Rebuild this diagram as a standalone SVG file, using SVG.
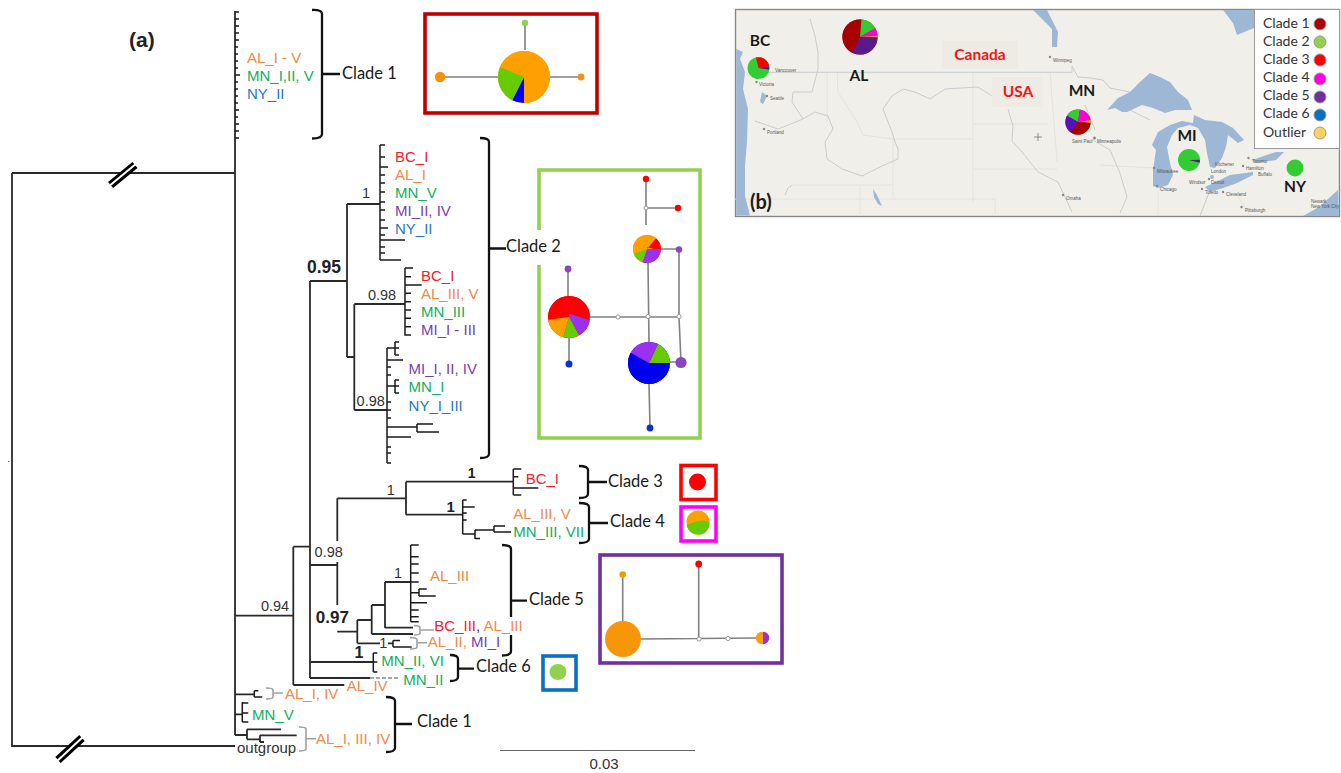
<svg xmlns="http://www.w3.org/2000/svg" width="1341" height="773" viewBox="0 0 1341 773">
<style>
text{font-family:"Liberation Sans",Arial,sans-serif}
.l{font-size:15px}
.or{fill:#ee8a4a}.gr{fill:#10b060}.bl{fill:#1f78c4}.pu{fill:#7a3fa8}.re{fill:#f0202c}
.n{font-size:14.5px;fill:#333}
.b{font-weight:bold;fill:#222}
.c{font-family:Lato,"Liberation Sans",sans-serif;font-size:16.5px;fill:#1a1a1a}
.tr{fill:none;stroke:#2a2a2a;stroke-width:1.8}
.tk{fill:none;stroke:#1a1a1a;stroke-width:1.5}
.gb{fill:none;stroke:#a0a0a0;stroke-width:1.6}
.br{fill:none;stroke:#111;stroke-width:2.3}
.e{fill:none;stroke:#808080;stroke-width:1.6}
.w{fill:#fff;stroke:#999;stroke-width:1}
.f{fill:none;stroke-width:3.6}
.s{fill:none}
.lk{fill:#9db7d4}
.rv{fill:none;stroke:#c8cdd0;stroke-width:1}
.st{fill:none;stroke:#e4e2dc;stroke-width:1}
.ct{font-size:4.5px;fill:#555}
.cd{fill:#888}
.mp{font-family:Lato,"Liberation Sans",sans-serif;font-size:15.5px;font-weight:bold;fill:#1a1a1a}
.lg{font-family:Lato,"Liberation Sans",sans-serif;font-size:14px;fill:#333}
.ld{stroke:#999;stroke-width:1}
</style>
<rect width="1341" height="773" fill="#fff"/>
<rect x="8" y="461" width="1.5" height="1" fill="#777"/>

<g id="connectors">
<path class="tr" d="M235,11V735M12,173H235M12,173V746H235M310,281V678M310,281H347M347,204V357M347,204H380M347,357H354.3M354.3,304V410M354.3,304H405M354.3,410H387"/>
<path class="tk" d="M235,12h4M235,19h4M235,26h4M235,33h4M235,40h4M235,47h3M235,54h3M235,61h3M235,68h3M235,75h5M235,82h3M235,89h3M235,96h3M235,103h3M235,110h4M235,117h3M235,124h4M235,131h4M235,138h4"/>
<path class="tk" d="M380,145V260M380,145h5M380,157h5M380,167h8M380,175h5M380,183h5M380,192h5M380,202h5M380,210h5M380,220h5M380,228h8M380,235h5M380,240h25M380,247h5M380,253h5M380,260h21"/>
<path class="tk" d="M405,268V335.700M405,268h8M405,276.700h6M405,285h16.700M405,293.300h6M405,301.700h6M405,310h6M405,318.300h6M405,326.700h6M405,335h6"/>
<path class="tk" d="M387,348V463M387,348h8M395,342v13M395,342h4M395,348h4M395,355h4M387,360h16M387,367h4M387,375h4M387,386h8M395,380v13M395,380h4M395,386h4M395,393h4M387,402h4M387,410h4M387,418h4M387,427h30M417,424v8M417,424h16M417,432h22M387,437h24M387,447h4M387,453h4M387,463h4"/>
<path class="tr" d="M310,565H337.300M337.300,498.300V541M337.300,562V605M337.300,498.300H406M406,481.700V514.700M406,481.700H513.300M406,514.700H462.700"/>
<path class="tk" d="M513.300,469V495M513.300,469h8M513.300,476.700h5M513.300,488h25M513.300,495h8"/>
<path class="tk" d="M462.700,500V534M462.700,500h4M462.700,507h12M462.700,513h4M462.700,520h4M462.700,534h12M475,530v9M475,530h19M475,538.500h5M494,526v6M494,526h11M494,532h17"/>
<path class="tr" d="M337.300,631.700H357.300M357.300,620V643.300M357.300,620H371.700M371.700,605V634M371.700,605H385M385,582V628M385,582H410.700M385,627.700H413M371.700,634H413M357.300,643.300H380M388,643.300H393"/>
<path class="tk" d="M410.700,545V621.700M410.700,545h8M410.700,556.700h8M410.700,564h8M410.700,573h8M410.700,582h8M410.700,592.700h8M419,589v7M419,589h7.700M419,596h16.700M410.700,602.700h16.300M410.700,610h8M410.700,616.700h8M410.700,621.700h8"/>
<path class="tk" d="M393,640.500V647M393,640.500h7M393,647h18.700"/>
<path class="tr" d="M310,662H373.300M310,678H370M293.300,546.700V685M293.300,546.700H310M293.300,685H344.300M235,615.700H293.300"/>
<path d="M370,678H400" fill="none" stroke="#888" stroke-width="1.4" stroke-dasharray="4 2"/>
<path class="tk" d="M373.300,653V672M373.300,653h4M373.300,662h4M373.300,672h4"/>
<path class="tr" d="M235,694.300H254.300M235,714.300H242.300M235,735H247M247,729.300V739.300M247,729.300H281M247,739.300H260M260,735.300V742M260,735.300H296.700M260,742H264"/>
<path class="tk" d="M254.300,690.700V697M254.300,690.700h4M254.300,697h8M242.300,702V722M242.300,703h6M242.300,713h6M242.300,722h6"/>
<path class="gb" d="M414,625.500Q420,625.500 420,628V633Q420,635 414,635M421,630H434M410,637.500Q417,637.500 417,640V647Q417,649 410,649M418,642.700H427M266,688Q273,688 273,690V697Q273,699 266,699M273,693H283M299,727Q306,727 306,729V749Q306,751 299,751M306,738.700H316"/>
<path class="br" d="M312,10Q322,9.500 322,14V134Q322,138.500 312,138.500M322,74H340"/>
<path class="br" d="M480,138Q489,138 489,142V454Q489,458 480,458M489,248.500H506"/>
<path class="br" d="M579,466Q588,466 588,470V494Q588,498 579,498M588,482H607"/>
<path class="br" d="M579,503Q589,503 589,507V539Q589,543 579,543M589,523H608"/>
<path class="br" d="M502,545Q511,545 511,549V617M511,635V651Q511,655.500 502,655.500M511,600.700H527"/>
<path class="br" d="M450,655Q458,655 458,659V677Q458,681 450,681M458,668.600H474"/>
<path class="br" d="M386,697Q395,697 395,701V748Q395,752 386,752M395,724H412"/>
<path d="M110.600,185L135,165M58,760L82,738" fill="none" stroke="#000" stroke-width="8"/>
<path d="M108,187L137,163M55,763L85,735" fill="none" stroke="#fff" stroke-width="2"/>
<path d="M500,750.500H695" fill="none" stroke="#666" stroke-width="1"/>
</g>

<g id="tree-labels">
<text x="129" y="47" font-size="21" class="b">(a)</text>
<text x="247" y="63" class="l or">AL_I - V</text>
<text x="247" y="81" class="l gr">MN_I,II, V</text>
<text x="247" y="99" class="l bl">NY_II</text>
<text x="395" y="162" class="l re">BC_I</text>
<text x="395" y="180" class="l or">AL_I</text>
<text x="395" y="198" class="l gr">MN_V</text>
<text x="395" y="216" class="l pu">MI_II, IV</text>
<text x="395" y="234" class="l bl">NY_II</text>
<text x="421" y="281" class="l re">BC_I</text>
<text x="421" y="299" class="l or">AL_III, V</text>
<text x="421" y="317" class="l gr">MN_III</text>
<text x="421" y="335" class="l pu">MI_I - III</text>
<text x="408.600" y="374" class="l pu">MI_I, II, IV</text>
<text x="408.600" y="392" class="l gr">MN_I</text>
<text x="408.600" y="411" class="l bl">NY_I_III</text>
<text x="525.700" y="484" class="l re">BC_I</text>
<text x="513.300" y="519" class="l or">AL_III, V</text>
<text x="513.300" y="537" class="l gr">MN_III, VII</text>
<text x="430" y="581" class="l or">AL_III</text>
<text x="434.300" y="631" class="l"><tspan class="re">BC_III</tspan><tspan fill="#333">, </tspan><tspan class="or">AL_III</tspan></text>
<text x="427.700" y="647" class="l"><tspan class="or">AL_II, </tspan><tspan class="pu">MI_I</tspan></text>
<text x="381.300" y="666" class="l gr">MN_II, VI</text>
<text x="403.300" y="685" class="l gr">MN_II</text>
<text x="346.700" y="691" class="l or">AL_IV</text>
<text x="285" y="699" class="l or">AL_I, IV</text>
<text x="252" y="720" class="l gr">MN_V</text>
<text x="316" y="743.500" class="l or">AL_I, III, IV</text>
<text x="237" y="753" class="n" style="font-size:15px">outgroup</text>
<text x="604" y="769" class="n" text-anchor="middle" style="font-size:15px">0.03</text>
<text x="366" y="198" class="n" text-anchor="middle">1</text>
<text x="382" y="300" class="n" text-anchor="middle">0.98</text>
<text x="370.700" y="405.500" class="n" text-anchor="middle">0.98</text>
<text x="328.700" y="557" class="n" text-anchor="middle">0.98</text>
<text x="275" y="610.500" class="n" text-anchor="middle">0.94</text>
<text x="390.700" y="495" class="n" text-anchor="middle">1</text>
<text x="398" y="577.500" class="n" text-anchor="middle">1</text>
<text x="383.300" y="648" class="n" text-anchor="middle">1</text>
<text x="324" y="273" font-size="17.500" class="b" text-anchor="middle">0.95</text>
<text x="332.300" y="623" font-size="17" class="b" text-anchor="middle">0.97</text>
<text x="471.700" y="478" font-size="14" class="b" text-anchor="middle">1</text>
<text x="450.700" y="512" font-size="15" class="b" text-anchor="middle">1</text>
<text x="359" y="658" font-size="16" class="b" text-anchor="middle">1</text>
<text x="342" y="79" class="c">Clade 1</text>
<text x="506" y="252" class="c">Clade 2</text>
<text x="608" y="487" class="c">Clade 3</text>
<text x="610" y="527" class="c">Clade 4</text>
<text x="529" y="605" class="c">Clade 5</text>
<text x="476" y="672" class="c">Clade 6</text>
<text x="417" y="727" class="c">Clade 1</text>
</g>

<g id="network-clade1">
<rect x="425" y="14" width="172" height="99" class="f" stroke="#c00000"/>
<path class="e" d="M440,77H498M525,24V50M550,77H581"/>
<circle cx="525" cy="23" r="3.200" fill="#92d050"/>
<circle cx="440" cy="77" r="5.200" fill="#f7900a"/>
<circle cx="581" cy="77" r="3.400" fill="#f7900a"/>
<g transform="translate(524,77) rotate(-90)">
<circle r="26" fill="#ff9f00"/>
<circle r="13" stroke-width="26" class="s" pathLength="360" stroke="#ff9f00" stroke-dasharray="248 112" stroke-dashoffset="-292"/>
<circle r="13" stroke-width="26" class="s" pathLength="360" stroke="#0000ff" stroke-dasharray="27 333" stroke-dashoffset="-180"/>
<circle r="13" stroke-width="26" class="s" pathLength="360" stroke="#66cc00" stroke-dasharray="85 275" stroke-dashoffset="-207"/>
</g>
</g>

<g id="network-clade2">
<path class="f" stroke="#92d050" d="M539,230V170H700V438H539V265"/>
<path class="e" d="M646,179V225M646,208H678M679,249H660M679,249V317L681,362M568,269V300M569,335V364M590,317H679M648,262L649,343M669,362H681M649,384L650,428"/>
<circle cx="646" cy="179" r="3.200" fill="#f00"/>
<circle cx="678" cy="208" r="3.200" fill="#f00"/>
<circle cx="679" cy="249.500" r="3.200" fill="#8b44c4"/>
<circle cx="568" cy="269" r="3.400" fill="#8b44c4"/>
<circle cx="569" cy="364" r="3.500" fill="#0a30d8"/>
<circle cx="650" cy="428" r="3.400" fill="#0a30d8"/>
<circle cx="681" cy="362.500" r="5.600" fill="#8b44c4"/>
<circle cx="646" cy="208" r="2.100" class="w"/>
<circle cx="618" cy="317" r="2.100" class="w"/>
<circle cx="648" cy="316.500" r="2.100" class="w"/>
<circle cx="679" cy="316.500" r="2.100" class="w"/>
<g transform="translate(647,249) rotate(-90)">
<circle r="14" fill="#ff9f00"/>
<circle r="7" stroke-width="14" class="s" pathLength="360" stroke="#ff9f00" stroke-dasharray="150 210" stroke-dashoffset="-250"/>
<circle r="7" stroke-width="14" class="s" pathLength="360" stroke="#f00" stroke-dasharray="50 310" stroke-dashoffset="-40"/>
<circle r="7" stroke-width="14" class="s" pathLength="360" stroke="#9b30ee" stroke-dasharray="110 250" stroke-dashoffset="-90"/>
<circle r="7" stroke-width="14" class="s" pathLength="360" stroke="#66cc00" stroke-dasharray="50 310" stroke-dashoffset="-200"/>
</g>
<g transform="translate(569,317) rotate(-90)">
<circle r="21" fill="#f00"/>
<circle r="10.500" stroke-width="21" class="s" pathLength="360" stroke="#f00" stroke-dasharray="188 172" stroke-dashoffset="-262"/>
<circle r="10.500" stroke-width="21" class="s" pathLength="360" stroke="#9b30ee" stroke-dasharray="61 299" stroke-dashoffset="-90"/>
<circle r="10.500" stroke-width="21" class="s" pathLength="360" stroke="#66cc00" stroke-dasharray="45 315" stroke-dashoffset="-151"/>
<circle r="10.500" stroke-width="21" class="s" pathLength="360" stroke="#ff9f00" stroke-dasharray="66 294" stroke-dashoffset="-196"/>
</g>
<g transform="translate(649,363) rotate(-90)">
<circle r="21" fill="#0000f0"/>
<circle r="10.500" stroke-width="21" class="s" pathLength="360" stroke="#0000f0" stroke-dasharray="209 151" stroke-dashoffset="-90"/>
<circle r="10.500" stroke-width="21" class="s" pathLength="360" stroke="#9b30ee" stroke-dasharray="87 273" stroke-dashoffset="-299"/>
<circle r="10.500" stroke-width="21" class="s" pathLength="360" stroke="#66cc00" stroke-dasharray="64 296" stroke-dashoffset="-26"/>
</g>
</g>

<g id="network-clade3">
<rect x="681" y="465.500" width="35" height="34" class="f" stroke="#f00"/>
<circle cx="697.500" cy="482" r="8.500" fill="#f00"/>
</g>

<g id="network-clade4">
<rect x="681" y="507" width="35" height="34" class="f" stroke="#ff00ff"/>
<circle cx="698" cy="522" r="11.500" fill="#ff9f00"/>
<path d="M686.700,525Q692,523 697,521Q704,519.500 709.500,522A11.500,11.500 0 0 1 686.700,525Z" fill="#66cc00"/>
</g>

<g id="network-clade5">
<rect x="600" y="555" width="182" height="108" class="f" stroke="#7030a0"/>
<path class="e" d="M622.700,575V622M698.700,564V639M641,639L756,638"/>
<circle cx="623" cy="639" r="18" fill="#f8960a"/>
<circle cx="622.700" cy="574.500" r="3.300" fill="#f8960a"/>
<circle cx="698.700" cy="564" r="3.400" fill="#f00"/>
<circle cx="699" cy="639" r="2.100" class="w"/>
<circle cx="728" cy="638.500" r="2.100" class="w"/>
<circle cx="762" cy="638" r="6.200" fill="#f8a010"/>
<path d="M763,631.800A6.200,6.200 0 0 1 763,644.200Z" fill="#9b30d8"/>
</g>

<g id="network-clade6">
<rect x="543" y="656" width="33" height="34" class="f" stroke="#0a70c0"/>
<ellipse cx="558" cy="672" rx="8.500" ry="8" fill="#92d050"/>
</g>

<g id="map">
<rect x="735.500" y="9.500" width="604" height="207" fill="#f1efe9" stroke="#888" stroke-width="1.400"/>
<path class="st" d="M973,72V202M915,139H973M973,124H1048M1050,72L1057,162M973,169H1057M735,199H995V216M893,139V199M893,139L915,139M860,185V216M792,185H893M827,72V122M837,72L838,92L857,122L863,135L893,139M1158,190V215M1237,195L1250,215M1100,165L1153,168"/>
<path class="rv" d="M768,72.300H1072V66L1078,77L1090,78L1103,80L1110,88L1130,92M810,19L815,36L818,52L818,69L812,92L793,92L792,102L803,119L778,129L755,121M803,119L815,112L828,116L833,129L825,142L827,159L842,169L862,176L882,166L898,159L898,149L895,142L892,132L883,109L892,96L903,89L915,92L930,99L945,89L978,87L992,96M1008,109L1013,126L1012,141L1022,152L1038,172L1058,182L1072,212M1093,140L1110,150L1120,173L1127,197L1120,213M1085,105L1095,130M1120,105L1150,120M1210,190L1200,216M785,195L788,188L792,185"/>
<path class="lk" d="M1107,110L1118,98L1130,92L1140,82L1150,73L1160,77L1170,82L1178,92L1188,100L1192,110L1175,110L1165,113L1153,108L1142,105L1127,112L1122,112L1115,108Z"/>
<path class="lk" d="M1153,186L1153,170L1156,150L1152,145L1158,132L1170,125L1182,121L1193,123L1194,115L1205,120L1222,122L1233,128L1244,140L1238,143L1228,135L1226,147L1222,158L1215,168L1210,167L1207,153L1205,140L1198,128L1190,125L1178,128L1172,135L1167,147L1170,163L1173,175L1168,185L1158,188Z"/>
<path class="lk" d="M1205,187L1220,180L1230,175L1253,172L1253,175L1237,183L1223,188L1210,192Z"/>
<circle class="lk" cx="1212" cy="177" r="2"/>
<path class="lk" d="M1252,160L1276,152L1284,152L1276,160L1256,163Z"/>
<path class="lk" d="M1033,10L1047,10L1058,32L1057,47L1052,47L1052,29Z"/>
<path class="lk" d="M1223,10L1254,10L1254,28L1237,35L1233,23Z"/>
<path class="lk" d="M736.200,49L743,52L740,59L745,72L743,89L748,109L747,142L745,166L745,196L750,215.500L736.200,215.500Z"/>
<path class="lk" d="M762,92L767,96L763,104L760,102Z"/>
<path class="lk" d="M1319,207L1338,190L1339,216L1303,216Z"/>
<path class="lk" d="M873,189L877,195L882,206L878,204L874,197Z"/>
<rect x="942" y="41" width="76" height="28" fill="#eeebe4"/>
<rect x="992" y="77" width="51" height="30" fill="#eeebe4"/>
<circle class="cd" cx="1050" cy="57" r="1.200"/><text class="ct" x="1053" y="62">Winnipeg</text>
<circle class="cd" cx="756.500" cy="82" r="1.200"/><text class="ct" x="759" y="86">Victoria</text>
<circle class="cd" cx="767" cy="96" r="1.200"/><text class="ct" x="770" y="100">Seattle</text>
<circle class="cd" cx="764" cy="129" r="1.200"/><text class="ct" x="767" y="134">Portland</text>
<text class="ct" x="1072" y="143">Saint Paul</text>
<circle class="cd" cx="1094.500" cy="138" r="1.500"/><text class="ct" x="1097" y="143">Minneapolis</text>
<circle class="cd" cx="1154" cy="168" r="1.200"/><text class="ct" x="1157" y="173">Milwaukee</text>
<circle class="cd" cx="1157" cy="186" r="1.200"/><text class="ct" x="1160" y="191">Chicago</text>
<text class="ct" x="1215" y="166">Kitchener</text>
<text class="ct" x="1211" y="173">London</text>
<circle class="cd" cx="1248.500" cy="158" r="1.200"/><text class="ct" x="1252" y="163">Toronto</text>
<circle class="cd" cx="1243" cy="166" r="1.200"/><text class="ct" x="1246" y="170">Hamilton</text>
<text class="ct" x="1258" y="176">Buffalo</text>
<text class="ct" x="1189" y="184">Windsor</text>
<circle class="cd" cx="1209" cy="179" r="1.200"/><text class="ct" x="1211" y="184">Detroit</text>
<circle class="cd" cx="1202" cy="189" r="1.200"/><text class="ct" x="1205" y="194">Toledo</text>
<circle class="cd" cx="1223" cy="192" r="1.200"/><text class="ct" x="1226" y="196">Cleveland</text>
<circle class="cd" cx="1241.500" cy="207" r="1.200"/><text class="ct" x="1245" y="212">Pittsburgh</text>
<circle class="cd" cx="1063" cy="195" r="1.200"/><text class="ct" x="1066" y="200">Omaha</text>
<text class="ct" x="1311" y="203">Newark</text>
<text class="ct" x="1311" y="208">New York City</text>
<text class="ct" x="775" y="72">Vancouver</text>
<path d="M1038,133V141M1034,137H1042" stroke="#777" stroke-width=".8"/>
<g id="pie-bc" transform="translate(758.500,68) rotate(-90)">
<circle r="10.800" fill="#33cc33"/>
<circle r="5.400" stroke-width="10.800" class="s" pathLength="360" stroke="#33cc33" stroke-dasharray="245 115" stroke-dashoffset="-100"/>
<circle r="5.400" stroke-width="10.800" class="s" pathLength="360" stroke="#f00" stroke-dasharray="95 265" stroke-dashoffset="-345"/>
<circle r="5.400" stroke-width="10.800" class="s" pathLength="360" stroke="#5a1a8c" stroke-dasharray="20 340" stroke-dashoffset="-80"/>
</g>
<g id="pie-al" transform="translate(860,37) rotate(-90)">
<circle r="17.600" fill="#a80000"/>
<circle r="8.800" stroke-width="17.600" class="s" pathLength="360" stroke="#a80000" stroke-dasharray="160 200" stroke-dashoffset="-205"/>
<circle r="8.800" stroke-width="17.600" class="s" pathLength="360" stroke="#33cc33" stroke-dasharray="55 305" stroke-dashoffset="-5"/>
<circle r="8.800" stroke-width="17.600" class="s" pathLength="360" stroke="#ff00dd" stroke-dasharray="25 335" stroke-dashoffset="-60"/>
<circle r="8.800" stroke-width="17.600" class="s" pathLength="360" stroke="#f8a010" stroke-dasharray="7 353" stroke-dashoffset="-85"/>
<circle r="8.800" stroke-width="17.600" class="s" pathLength="360" stroke="#5a1a8c" stroke-dasharray="113 247" stroke-dashoffset="-92"/>
</g>
<g id="pie-mn" transform="translate(1078,122) rotate(-90)">
<circle r="12.600" fill="#a80000"/>
<circle r="6.300" stroke-width="12.600" class="s" pathLength="360" stroke="#33cc33" stroke-dasharray="70 290" stroke-dashoffset="-300"/>
<circle r="6.300" stroke-width="12.600" class="s" pathLength="360" stroke="#ff00dd" stroke-dasharray="70 290" stroke-dashoffset="-10"/>
<circle r="6.300" stroke-width="12.600" class="s" pathLength="360" stroke="#f8a010" stroke-dasharray="15 345" stroke-dashoffset="-80"/>
<circle r="6.300" stroke-width="12.600" class="s" pathLength="360" stroke="#a80000" stroke-dasharray="120 240" stroke-dashoffset="-95"/>
<circle r="6.300" stroke-width="12.600" class="s" pathLength="360" stroke="#5a10c0" stroke-dasharray="85 275" stroke-dashoffset="-215"/>
</g>
<g id="pie-mi" transform="translate(1189,160) rotate(-90)">
<circle r="11" fill="#33cc33"/>
<circle r="5.500" stroke-width="11" class="s" pathLength="360" stroke="#5a1a8c" stroke-dasharray="18 342" stroke-dashoffset="-88"/>
</g>
<circle id="pie-ny" cx="1295" cy="168" r="8.500" fill="#33cc33"/>
<text class="mp" x="760" y="46" text-anchor="middle">BC</text>
<text class="mp" x="859" y="81" text-anchor="middle">AL</text>
<text class="mp" x="980" y="60" text-anchor="middle" style="fill:#f01818">Canada</text>
<text class="mp" x="1018" y="97" text-anchor="middle" style="fill:#f01818">USA</text>
<text class="mp" x="1082" y="96" text-anchor="middle">MN</text>
<text class="mp" x="1187" y="141" text-anchor="middle">MI</text>
<text class="mp" x="1295" y="192" text-anchor="middle">NY</text>
<text x="750" y="209" font-size="20" style="font-family:Lato,'Liberation Sans',sans-serif;font-weight:bold;fill:#1a1a1a">(b)</text>
<g id="legend">
<rect x="1254.500" y="9.500" width="85" height="139" fill="#fff" stroke="#999" stroke-width="1"/>
<text class="lg" x="1263" y="28">Clade 1</text><circle class="ld" cx="1320" cy="24" r="6" fill="#b00000"/>
<text class="lg" x="1263" y="46">Clade 2</text><circle class="ld" cx="1320" cy="42" r="6" fill="#92d050"/>
<text class="lg" x="1263" y="64">Clade 3</text><circle class="ld" cx="1320" cy="60" r="6" fill="#f00"/>
<text class="lg" x="1263" y="82">Clade 4</text><circle class="ld" cx="1320" cy="79" r="6" fill="#ff00e0"/>
<text class="lg" x="1263" y="100">Clade 5</text><circle class="ld" cx="1320" cy="97" r="6" fill="#7030a0"/>
<text class="lg" x="1263" y="118">Clade 6</text><circle class="ld" cx="1320" cy="115" r="6" fill="#0a70c0"/>
<text class="lg" x="1263" y="137">Outlier</text><circle class="ld" cx="1320" cy="133" r="6" fill="#ffd060"/>
</g>
</g>
</svg>
